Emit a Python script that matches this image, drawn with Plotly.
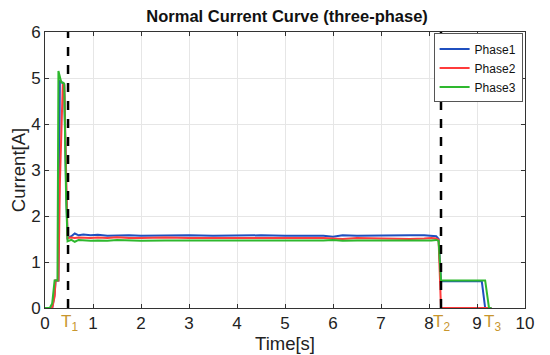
import plotly.graph_objects as go

# ---- data ----
time = [0.00, 0.10, 0.15, 0.20, 0.22, 0.26, 0.28, 0.31, 0.34, 0.37, 0.40, 0.44, 0.47,
        0.55, 0.62, 0.70, 0.80, 0.95, 1.10, 1.30, 1.50, 1.75, 2.00, 2.50, 3.00, 3.50,
        4.00, 4.50, 5.00, 5.50, 5.80, 6.00, 6.20, 6.50, 7.00, 7.30, 7.60, 7.90, 8.05,
        8.15, 8.20, 8.25, 8.30, 8.50, 9.00, 9.10, 9.17, 9.25, 9.30]

phase1 = [0.00, 0.00, 0.00, 0.30, 0.60, 0.60, 0.60, 4.95, 4.92, 4.90, 4.85, 2.60, 1.52,
          1.56, 1.62, 1.58, 1.60, 1.58, 1.59, 1.57, 1.58, 1.58, 1.57, 1.58, 1.58, 1.57,
          1.58, 1.58, 1.57, 1.58, 1.57, 1.55, 1.58, 1.57, 1.58, 1.57, 1.58, 1.58, 1.57,
          1.56, 1.50, 0.58, 0.58, 0.58, 0.58, 0.58, 0.00, 0.00, 0.00]

phase2 = [0.00, 0.00, 0.00, 0.25, 0.60, 0.60, 0.60, 2.70, 4.00, 4.85, 4.85, 2.50, 1.52,
          1.53, 1.52, 1.53, 1.52, 1.52, 1.53, 1.52, 1.54, 1.52, 1.52, 1.53, 1.52, 1.52,
          1.53, 1.52, 1.52, 1.53, 1.52, 1.51, 1.50, 1.52, 1.51, 1.52, 1.50, 1.51, 1.52,
          1.51, 1.48, 0.00, 0.00, 0.00, 0.00, 0.00, 0.00, 0.00, 0.00]

phase3 = [0.00, 0.00, 0.10, 0.60, 0.60, 0.60, 5.15, 5.00, 4.90, 4.90, 4.88, 2.40, 1.45,
          1.48, 1.44, 1.48, 1.47, 1.46, 1.47, 1.46, 1.48, 1.47, 1.46, 1.47, 1.47, 1.46,
          1.47, 1.46, 1.47, 1.46, 1.47, 1.48, 1.46, 1.47, 1.46, 1.47, 1.47, 1.46, 1.47,
          1.48, 1.46, 0.60, 0.60, 0.60, 0.60, 0.60, 0.60, 0.00, 0.00]

marker_times = [0.48, 8.25]
marker_labels_x = [0.5, 8.27, 9.32]
marker_labels = ["T<sub>1</sub>", "T<sub>2</sub>", "T<sub>3</sub>"]

x_ticks = [0, 1, 2, 3, 4, 5, 6, 7, 8, 9, 10]
y_ticks = [0, 1, 2, 3, 4, 5, 6]

FONT = "Liberation Sans, Arial, Helvetica, sans-serif"

fig = go.Figure()
fig.add_trace(go.Scatter(x=time, y=phase1, mode="lines", name="Phase1",
                         line=dict(color="#1f4fbf", width=2)))
fig.add_trace(go.Scatter(x=time, y=phase2, mode="lines", name="Phase2",
                         line=dict(color="#ff3b3b", width=2)))
fig.add_trace(go.Scatter(x=time, y=phase3, mode="lines", name="Phase3",
                         line=dict(color="#2eb82e", width=2)))

for t in marker_times:
    fig.add_shape(type="line", x0=t, x1=t, y0=0, y1=1, xref="x", yref="paper",
                  line=dict(color="black", width=2.5, dash="dash"))

for xv, lab in zip(marker_labels_x, marker_labels):
    fig.add_annotation(x=xv, y=0, xref="x", yref="paper", yanchor="top", yshift=-2,
                       text=lab, showarrow=False,
                       font=dict(family=FONT, size=17, color="#c8962e"))

fig.update_layout(
    width=550, height=355,
    margin=dict(l=45, r=25, t=32, b=47, autoexpand=False),
    paper_bgcolor="white", plot_bgcolor="white",
    font=dict(family=FONT, size=17, color="#222"),
    title=dict(text="<b>Normal Current Curve (three-phase)</b>", x=0.522, xanchor="center",
               y=0.953, yanchor="middle", automargin=False,
               font=dict(size=16.5, color="#111")),
    legend=dict(x=0.995, y=0.995, xanchor="right", yanchor="top",
                bgcolor="white", bordercolor="#555", borderwidth=1,
                font=dict(size=12, color="#111"), tracegroupgap=0,
                itemwidth=30),
    showlegend=True,
)
fig.update_xaxes(range=[0, 10], tickvals=x_ticks, showgrid=True, gridcolor="#e6e6e6",
                 showline=True, linecolor="#333", linewidth=1, mirror="ticks",
                 ticks="inside", ticklen=4, tickcolor="#333", zeroline=False,
                 automargin=False,
                 title=dict(text="Time[s]", standoff=0, font=dict(size=18.5)))
fig.update_yaxes(range=[0, 6], tickvals=y_ticks, showgrid=True, gridcolor="#e6e6e6",
                 showline=True, linecolor="#333", linewidth=1, mirror="ticks",
                 ticks="inside", ticklen=4, tickcolor="#333", zeroline=False,
                 automargin=False,
                 title=dict(text="Current[A]", standoff=0, font=dict(size=18.5)))

fig.write_html("out.html", config={"displayModeBar": False},
               post_script="document.body.style.margin='0';document.body.style.overflow='hidden';")
